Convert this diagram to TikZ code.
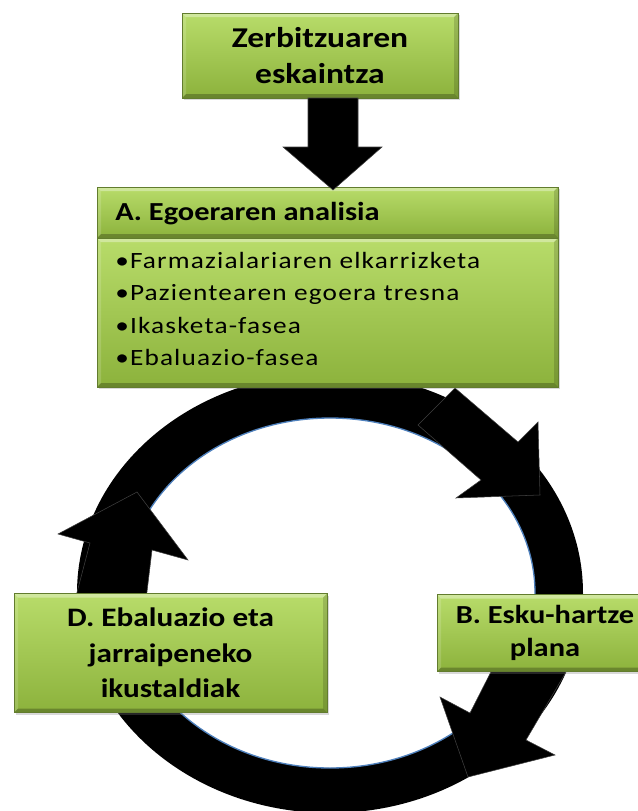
\documentclass[tikz,border=0pt]{standalone}
\usepackage{fontspec}
\setmainfont[FakeStretch=1.17]{Carlito}
\newfontfamily\listfont[FakeStretch=1.17, LetterSpace=5]{Carlito}
\usetikzlibrary{positioning, shadows, calc}
\definecolor{boxtop}{RGB}{184,220,106}
\definecolor{boxbot}{RGB}{140,178,60}
\definecolor{boxedge}{RGB}{98,124,46}
\definecolor{ringedge}{RGB}{79,129,189}
\newlength\pxu
\setlength\pxu{0.75pt}

\tikzset{
	greenbox/.style={rectangle, inner sep=0pt, top color=boxtop, bottom color=boxbot,
		draw=boxedge, line width=0.4pt, align=center,
		drop shadow={opacity=0.3, shadow xshift=1.2pt, shadow yshift=-1.5pt},
		path picture={
			\fill[white, opacity=0.35] (path picture bounding box.north west) -- (path picture bounding box.north east)
			-- ([xshift=-3pt,yshift=-3pt]path picture bounding box.north east) -- ([xshift=3pt,yshift=-3pt]path picture bounding box.north west) -- cycle;
			\fill[white, opacity=0.15] (path picture bounding box.north west) -- (path picture bounding box.south west)
			-- ([xshift=3pt,yshift=3pt]path picture bounding box.south west) -- ([xshift=3pt,yshift=-3pt]path picture bounding box.north west) -- cycle;
			\fill[black, opacity=0.25] (path picture bounding box.south west) -- (path picture bounding box.south east)
			-- ([xshift=-3pt,yshift=3pt]path picture bounding box.south east) -- ([xshift=3pt,yshift=3pt]path picture bounding box.south west) -- cycle;
			\fill[black, opacity=0.15] (path picture bounding box.north east) -- (path picture bounding box.south east)
			-- ([xshift=-3pt,yshift=3pt]path picture bounding box.south east) -- ([xshift=-3pt,yshift=-3pt]path picture bounding box.north east) -- cycle;
		}},
	boxtext/.style={font=\bfseries\fontsize{20}{26.5}\selectfont},
	listtext/.style={anchor=base west, inner sep=0pt, font=\listfont\fontsize{17.5}{21}\selectfont},
	arrowpart/.style={fill=black, draw=black!75, line width=0.4pt, line join=miter}
}

\begin{document}
\begin{tikzpicture}[x=0.75pt, y=-0.75pt]
	\useasboundingbox (0,0) rectangle (638,811);
	
	% ring
	\coordinate (ringc) at (330,593);
	\fill[black, even odd rule] (ringc) ellipse [x radius=253, y radius=220]
		(ringc) ellipse [x radius=205, y radius=175];
	\draw[ringedge, line width=1pt] (ringc) ellipse [x radius=205, y radius=175];
	
	% arrows on the ring
	\fill[arrowpart] (455,388) -- (518,442) -- (538,422) -- (540,495) -- (456,498) -- (481,480) -- (418,425) -- cycle;
	\fill[arrowpart] (573,660) -- (526,740) -- (555,755) -- (468,777) -- (440,697) -- (470,713) -- (497,660) -- cycle;
	\fill[arrowpart] (75,600) -- (90,543) -- (58,534) -- (137,492) -- (188,560) -- (152,550) -- (146,600) -- cycle;
	
	% boxes
	\node[greenbox, boxtext, font=\bfseries\fontsize{21.5}{27.5}\selectfont,
		minimum width=276\pxu, minimum height=85\pxu] (serv) at (320,55.5) {Zerbitzuaren\\eskaintza};
	\node[greenbox, minimum width=461\pxu, minimum height=51\pxu] (headA) at (327.5,212.5) {};
	\node[greenbox, minimum width=461\pxu, minimum height=149\pxu] (bodyA) at (327.5,312.5) {};
	\node[greenbox, boxtext, minimum width=313\pxu, minimum height=119\pxu] (boxD) at (170.5,653)
		{D. Ebaluazio eta\\jarraipeneko\\ikustaldiak};
	\node[greenbox, boxtext, font=\bfseries\fontsize{19.5}{24.5}\selectfont,
		minimum width=216\pxu, minimum height=77\pxu] (boxB) at (545,633) {B. Esku-hartze\\plana};
	
	% texts of A
	\node[anchor=base west, inner sep=0pt, font=\bfseries\fontsize{19.5}{24}\selectfont] (titleA) at (115,220) {A. Egoeraren analisia};
	\node[listtext] (itemA1) at (115,268) {•Farmazialariaren elkarrizketa};
	\node[listtext] (itemA2) at (115,300.5) {•Pazientearen egoera tresna};
	\node[listtext] (itemA3) at (115,333) {•Ikasketa-fasea};
	\node[listtext] (itemA4) at (115,365.5) {•Ebaluazio-fasea};
	
	% arrow down
	\coordinate (dn1) at (333,98);
	\coordinate (dn2) at (333,190);
	\fill[arrowpart] ($(dn1)+(-25,0)$) -- ++(50,0) -- ++(0,49) -- ++(24,0) -- (dn2) -- ++(-50,-43) -- ++(25,0) -- cycle;
\end{tikzpicture}
\end{document}
